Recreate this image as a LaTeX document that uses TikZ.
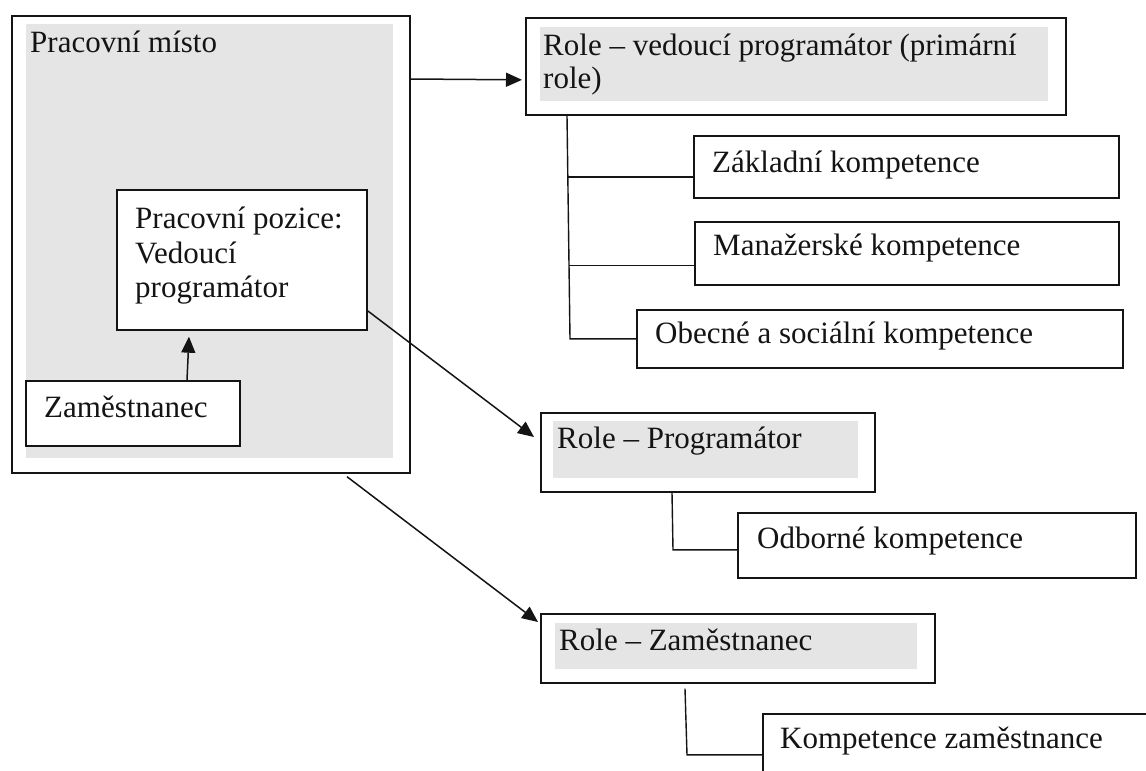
\documentclass[tikz,border=0pt]{standalone}
\usepackage{fontspec}
\setmainfont{Liberation Serif}
\usetikzlibrary{arrows.meta}
\definecolor{fillgray}{HTML}{E5E5E5}
\definecolor{ink}{HTML}{141414}
\begin{document}
\begin{tikzpicture}[x=1pt,y=-1pt,
  box/.style={draw=ink, line width=1.7pt, fill=white, inner sep=0pt, anchor=north west},
  txt/.style={inner sep=0pt, anchor=base west, text=ink, font=\fontsize{31}{35}\selectfont},
  arr/.style={draw=ink, line width=1.5pt, -{Triangle[length=16pt,width=14pt]}},
  conn/.style={draw=ink, line width=1.4pt}]
\useasboundingbox (0,0) rectangle (1146,771);
\fill[white] (0,0) rectangle (1146,771);
\clip (0,0) rectangle (1146,771);

% Pracovni misto
\node[box, minimum width=398pt, minimum height=457pt] (misto) at (11,15) {};
\fill[fillgray] (26,24) rectangle (393,458);
\node[txt] (tmisto) at (30,52) {Pracovní místo};

% Pracovni pozice
\node[box, minimum width=250pt, minimum height=140pt] (pozice) at (116,189) {};
\node[txt] (tpoz1) at (135,228) {Pracovní pozice:};
\node[txt] (tpoz2) at (135,263) {Vedoucí};
\node[txt] (tpoz3) at (135,297) {programátor};

% Zamestnanec
\node[box, minimum width=214pt, minimum height=65pt] (zam) at (25,380) {};
\node[txt] (tzam) at (44,417) {Zaměstnanec};

% Role - vedouci programator
\node[box, minimum width=540pt, minimum height=97pt] (rolevp) at (525,17) {};
\fill[fillgray] (540,27) rectangle (1048,101);
\node[txt] (trvp1) at (543,55) {Role – vedoucí programátor (primární};
\node[txt] (trvp2) at (543,88) {role)};

% competences of primary role
\node[box, minimum width=425pt, minimum height=62pt] (zakl) at (693,135) {};
\node[txt] (tzakl) at (712,172) {Základní kompetence};
\node[box, minimum width=424pt, minimum height=63pt] (manaz) at (694,221) {};
\node[txt] (tmanaz) at (713,255) {Manažerské kompetence};
\node[box, minimum width=486pt, minimum height=58pt] (obecne) at (636,309) {};
\node[txt] (tobecne) at (655,343) {Obecné a sociální kompetence};

% Role - Programator
\node[box, minimum width=334pt, minimum height=79pt] (roleprog) at (540,412) {};
\fill[fillgray] (553,421) rectangle (858,478);
\node[txt] (trprog) at (557,448) {Role – Programátor};
\node[box, minimum width=398pt, minimum height=65pt] (odb) at (737,512) {};
\node[txt] (todb) at (757,548) {Odborné kompetence};

% Role - Zamestnanec
\node[box, minimum width=394pt, minimum height=69pt] (rolezam) at (540,613) {};
\fill[fillgray] (555,623) rectangle (917,669);
\node[txt] (trzam) at (559,650) {Role – Zaměstnanec};
\node[box, minimum width=420pt, minimum height=82pt] (komp) at (762,713) {};
\node[txt] (tkomp) at (780,748) {Kompetence zaměstnance};

% arrows
\draw[arr] ([xshift=162pt]zam.north west) -- ([xshift=73pt,yshift=-6pt]pozice.south west);
\draw[arr] ([yshift=-64pt]misto.north east) -- ([xshift=-3pt,yshift=-13.5pt]rolevp.west);
\draw[arr] ([yshift=-51pt]pozice.east) -- ([xshift=-6pt,yshift=-25pt]roleprog.north west);
\draw[arr] ([xshift=336pt,yshift=-3pt]misto.south west) -- ([xshift=-2pt,yshift=-9pt]rolezam.north west);

% tree connectors
\draw[conn] ([xshift=42pt]rolevp.south west) -- ([xshift=-66pt]obecne.west) -- (obecne.west);
\draw[conn] ([xshift=-125pt,yshift=-10pt]zakl.west) -- ([yshift=-10pt]zakl.west);
\draw[conn] ([xshift=-125pt,yshift=-12pt]manaz.west) -- ([yshift=-12pt]manaz.west);
\draw[conn] ([xshift=132pt]roleprog.south west) -- ([xshift=-64pt,yshift=-4.5pt]odb.west) -- ([yshift=-4.5pt]odb.west);
\draw[conn] ([xshift=145pt,yshift=-5pt]rolezam.south west) -- ([xshift=-75pt]komp.west) -- (komp.west);
\end{tikzpicture}
\end{document}
